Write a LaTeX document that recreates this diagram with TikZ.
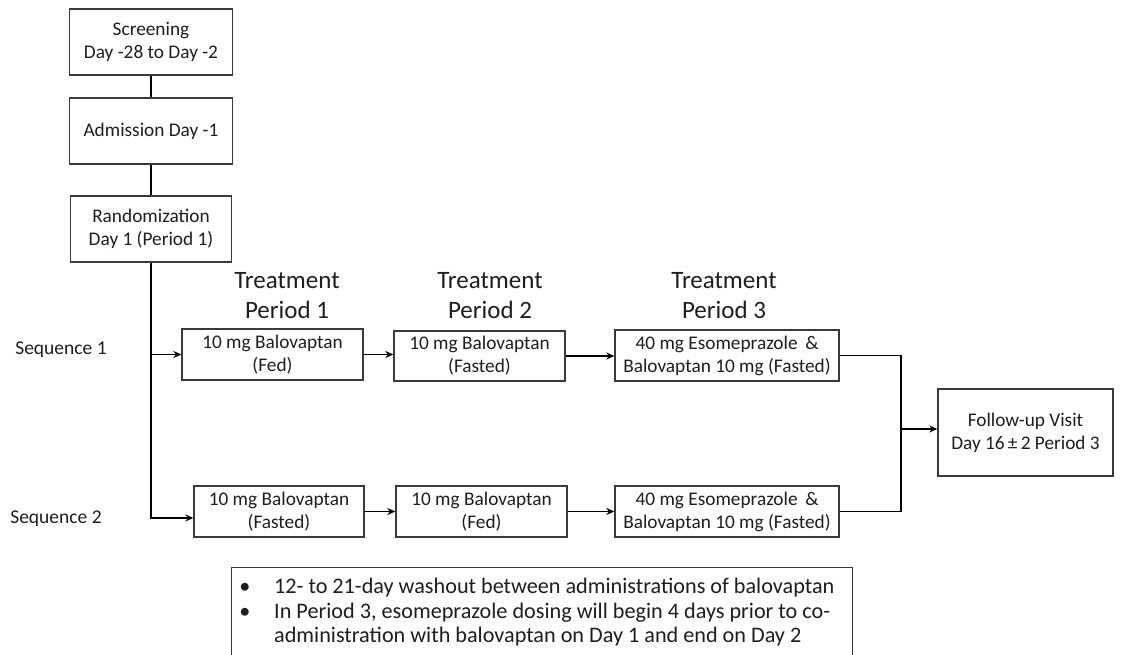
\documentclass[tikz,border=0pt]{standalone}
\usepackage{fontspec}
\setmainfont{Carlito}
\usetikzlibrary{arrows.meta,calc}
\definecolor{txt}{HTML}{1E1E1E}
\definecolor{boxc}{HTML}{3A3A3A}
\begin{document}
\begin{tikzpicture}[x=1pt,y=-1pt,
  fbox/.style={draw=boxc,line width=1.4pt,align=center,inner sep=0pt,text=txt,font=\fontsize{19.3}{23}\selectfont},
  conn/.style={line width=1.9pt,draw=black},
  arr/.style={conn,-{Stealth[length=8pt,width=7pt]}},
  head/.style={align=center,text=txt,font=\fontsize{25}{30}\selectfont},
  seqlab/.style={text=txt,inner sep=0pt,font=\fontsize{19.5}{23}\selectfont},
  notefont/.style={text=txt,inner sep=0pt,font=\fontsize{22.2}{24}\selectfont}]
\clip (0,0) rectangle (1128,655);
\fill[white] (0,0) rectangle (1128,655);
% left column
\node[fbox,minimum width=163pt,minimum height=66pt] (scr) at (151,42) {Screening\\Day -28 to Day -2};
\node[fbox,minimum width=163pt,minimum height=66pt] (adm) at (151,131) {Admission Day -1};
\node[fbox,minimum width=161pt,minimum height=66pt] (rnd) at (151,229) {Randomization\\Day 1 (Period 1)};
% headings
\node[head] (h1) at (287,296) {Treatment\\Period 1};
\node[head] (h2) at (490,296) {Treatment\\Period 2};
\node[head] (h3) at (724,296) {Treatment\\Period 3};
% sequence labels
\node[seqlab] (sq1) at (61,350) {Sequence 1};
\node[seqlab] (sq2) at (56,519) {Sequence 2};
% sequence 1
\node[fbox,minimum width=181pt,minimum height=51pt] (a1) at (272.5,354.5) {10 mg Balovaptan\\(Fed)};
\node[fbox,minimum width=171pt,minimum height=50pt] (a2) at (479.5,356) {10 mg Balovaptan\\(Fasted)};
\node[fbox,minimum width=224pt,minimum height=51pt] (a3) at (727,355.5) {40 mg Esomeprazole \,\&\\Balovaptan 10 mg (Fasted)};
% sequence 2
\node[fbox,minimum width=170pt,minimum height=51pt] (b1) at (279,511.5) {10 mg Balovaptan\\(Fasted)};
\node[fbox,minimum width=171pt,minimum height=51pt] (b2) at (481.5,511.5) {10 mg Balovaptan\\(Fed)};
\node[fbox,minimum width=224pt,minimum height=51pt] (b3) at (727,511.5) {40 mg Esomeprazole \,\&\\Balovaptan 10 mg (Fasted)};
% follow-up
\node[fbox,minimum width=175pt,minimum height=87pt] (fu) at (1025.5,432.5) {Follow-up Visit\\Day 16\,±\,2 Period 3};
% connectors
\draw[conn] (scr.south) -- (adm.north);
\draw[conn] (adm.south) -- (rnd.north);
\coordinate (s2) at ([yshift=-6.5pt]b1.west);
\draw[arr] (rnd.south) |- (s2);
\draw[arr] (rnd.south |- a1.west) -- (a1.west);
\draw[arr] (a1.east) -- (a1.east -| a2.west);
\draw[arr] (a2.east) -- (a2.east -| a3.west);
\draw[arr] (b1.east) -- (b1.east -| b2.west);
\draw[arr] (b2.east) -- (b2.east -| b3.west);
\coordinate (m) at (901,429);
\draw[conn] (a3.east) -| (m);
\draw[conn] (b3.east) -| (m);
\draw[arr] (m) -- (m -| fu.west);
% note
\node[fbox,minimum width=621pt,minimum height=110pt,anchor=north west] (note) at (231,567) {};
\node[notefont,anchor=base] (bu1) at (245,593.5) {\textbullet};
\node[notefont,anchor=base] (bu2) at (245,618) {\textbullet};
\node[notefont,anchor=base west] (n1) at (274,593.5) {12- to 21-day washout between administrations of balovaptan};
\node[notefont,anchor=base west] (n2) at (274,618) {In Period 3, esomeprazole dosing will begin 4 days prior to co-};
\node[notefont,anchor=base west] (n3) at (274,642) {administration with balovaptan on Day 1 and end on Day 2};
\end{tikzpicture}
\end{document}
